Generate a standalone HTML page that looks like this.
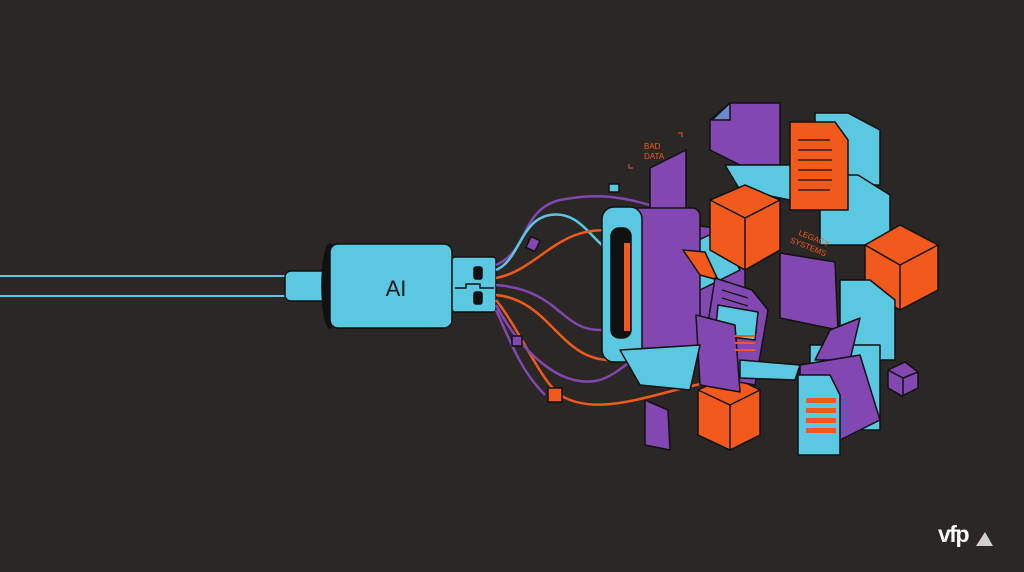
<!DOCTYPE html>
<html><head><meta charset="utf-8"><style>
html,body{margin:0;padding:0;background:#2a2725;width:1024px;height:572px;overflow:hidden}
svg{display:block}
</style></head><body>
<svg width="1024" height="572" viewBox="0 0 1024 572" xmlns="http://www.w3.org/2000/svg" font-family="Liberation Sans, sans-serif">
<rect width="1024" height="572" fill="#2a2725"/>
<g stroke="#111" stroke-width="1.5" stroke-linejoin="round">
<rect x="-5" y="276" width="295" height="20" fill="#2a2725" stroke="#5bc8e2" stroke-width="2"/>
<rect x="285" y="271" width="45" height="30" rx="6" fill="#5bc8e2"/>
<ellipse cx="330" cy="286" rx="8" ry="42" fill="#111"/>
<rect x="330" y="244" width="122" height="84" rx="8" fill="#5bc8e2"/>
<rect x="452" y="257" width="44" height="55" rx="3" fill="#5bc8e2"/>
<rect x="474" y="267" width="8" height="12" rx="2" fill="#111"/>
<rect x="474" y="292" width="8" height="12" rx="2" fill="#111"/>
<path d="M455 288 H466 V284 H480 V288 H494" fill="none"/>
</g>
<text x="396" y="296" font-size="22" text-anchor="middle" fill="#1a1a1a">AI</text>
<g fill="none" stroke-width="2.5">
<path d="M496 265 C530 250 520 210 560 200 C590 195 620 190 690 220" stroke="#8247b0"/>
<path d="M496 270 C520 260 520 220 550 215 C580 210 590 240 620 260" stroke="#5bc8e2"/>
<path d="M496 278 C540 270 560 220 620 232 C660 240 650 300 700 320" stroke="#f25a1c"/>
<path d="M496 285 C560 290 560 330 600 330 C630 330 640 280 650 260" stroke="#8247b0"/>
<path d="M496 295 C550 300 560 360 610 360 C640 360 650 320 690 300" stroke="#f25a1c"/>
<path d="M496 300 C520 330 540 380 560 395 C600 420 660 390 720 380" stroke="#f25a1c"/>
<path d="M496 305 C520 350 560 390 600 380 C630 370 640 340 700 330" stroke="#8247b0"/>
<path d="M496 310 C510 340 520 370 545 395" stroke="#8247b0"/>
</g>
<g stroke="#111" stroke-width="1.5" stroke-linejoin="round">
<rect x="528" y="238" width="10" height="12" fill="#8247b0" transform="rotate(25 533 244)"/>
<rect x="512" y="336" width="10" height="10" fill="#8247b0"/>
<rect x="548" y="388" width="14" height="14" fill="#f25a1c"/>
<rect x="609" y="184" width="10" height="8" fill="#5bc8e2"/>
<polygon points="650,168 686,150 686,210 650,228" fill="#8247b0"/>
<polygon points="710,120 730,103 780,103 780,165 740,165 710,150" fill="#8247b0"/>
<polygon points="712,120 730,103 730,120" fill="#6a8ad0"/>
<polygon points="725,165 800,165 790,200 740,190" fill="#5bc8e2"/>
<polygon points="815,113 848,113 880,130 880,185 815,185" fill="#5bc8e2"/>
<polygon points="820,175 858,175 890,195 890,245 820,245" fill="#5bc8e2"/>
<polygon points="790,122 835,122 848,140 848,210 790,210" fill="#f25a1c"/>
<polygon points="660,228 700,226 745,232 745,355 660,358" fill="#8247b0"/>
<polygon points="688,245 720,230 740,270 700,290" fill="#5bc8e2"/>
<rect x="630" y="208" width="70" height="155" rx="8" fill="#8247b0"/>
<rect x="602" y="207" width="40" height="155" rx="12" fill="#5bc8e2"/>
<rect x="611" y="228" width="20" height="110" rx="8" fill="#111"/>
<rect x="624" y="243" width="6" height="88" fill="#f25a1c" stroke="none"/>
<polygon points="745,185 780,200 780,250 745,270 710,250 710,200" fill="#f25a1c"/>
<path d="M710,200 L745,218 L780,200 M745,218 V270" fill="none"/>
<polygon points="900,225 938,245 938,290 900,310 865,290 865,245" fill="#f25a1c"/>
<path d="M865,245 L900,265 L938,245 M900,265 V310" fill="none"/>
<polygon points="730,375 760,390 760,435 730,450 698,435 698,390" fill="#f25a1c"/>
<path d="M698,390 L730,405 L760,390 M730,405 V450" fill="none"/>
<polygon points="683,250 705,252 718,280 700,275" fill="#f25a1c"/>
<polygon points="780,253 835,262 838,330 780,318" fill="#8247b0"/>
<polygon points="840,280 870,280 895,300 895,360 840,360" fill="#5bc8e2"/>
<polygon points="810,345 880,345 880,430 830,430 810,415" fill="#5bc8e2"/>
<polygon points="830,330 860,318 850,360 815,360" fill="#8247b0"/>
<polygon points="800,365 860,355 880,420 840,440 800,420" fill="#8247b0"/>
<polygon points="715,278 752,290 768,310 755,385 700,375" fill="#8247b0"/>
<polygon points="718,305 758,312 755,340 715,335" fill="#5bc8e2"/>
<polygon points="696,315 735,325 740,392 700,385" fill="#8247b0"/>
<polygon points="740,360 800,365 795,380 740,378" fill="#5bc8e2"/>
<polygon points="798,375 830,375 840,395 840,455 798,455" fill="#5bc8e2"/>
<polygon points="645,400 668,410 670,450 645,445" fill="#8247b0"/>
<polygon points="888,370 905,362 918,372 918,388 902,396 888,388" fill="#8247b0"/>
<path d="M888,370 L903,378 L918,372 M903,378 V396" fill="none"/>
<polygon points="620,350 700,345 690,390 640,385" fill="#5bc8e2"/>
</g>
<g fill="none" stroke="#111" stroke-width="1.2">
<path d="M798 140 H830 M798 150 H832 M798 160 H832 M798 170 H832 M798 180 H832 M798 190 H830"/>
<path d="M722 290 L748 298 M722 298 L748 306"/>
</g>
<g fill="#f25a1c" stroke="none">
<rect x="806" y="398" width="30" height="5"/><rect x="806" y="408" width="30" height="5"/><rect x="806" y="418" width="30" height="5"/><rect x="806" y="428" width="30" height="5"/>
<rect x="735" y="335" width="20" height="2"/><rect x="735" y="342" width="20" height="2"/><rect x="735" y="349" width="20" height="2"/>
</g>
<g stroke="#5bc8e2" stroke-width="1.5"><path d="M806 405 H836 M806 415 H836 M806 425 H836"/></g>
<text x="644" y="149" font-size="8" fill="#f25a1c">BAD</text>
<text x="644" y="159" font-size="8" fill="#f25a1c">DATA</text>
<path d="M678 133 H682 V137 M629 164 V168 H633" stroke="#f25a1c" fill="none" stroke-width="1"/>
<g transform="rotate(22 810 245)" fill="#f25a1c" font-size="8">
<text x="795" y="240">LEGACY</text>
<text x="790" y="250">SYSTEMS</text>
</g>
<text x="938" y="542" font-size="23" font-weight="bold" fill="#ffffff" letter-spacing="-1.5">vfp</text>
<polygon points="976,546 985,532 993,546" fill="#d0d0d0"/>
</svg>
</body></html>
